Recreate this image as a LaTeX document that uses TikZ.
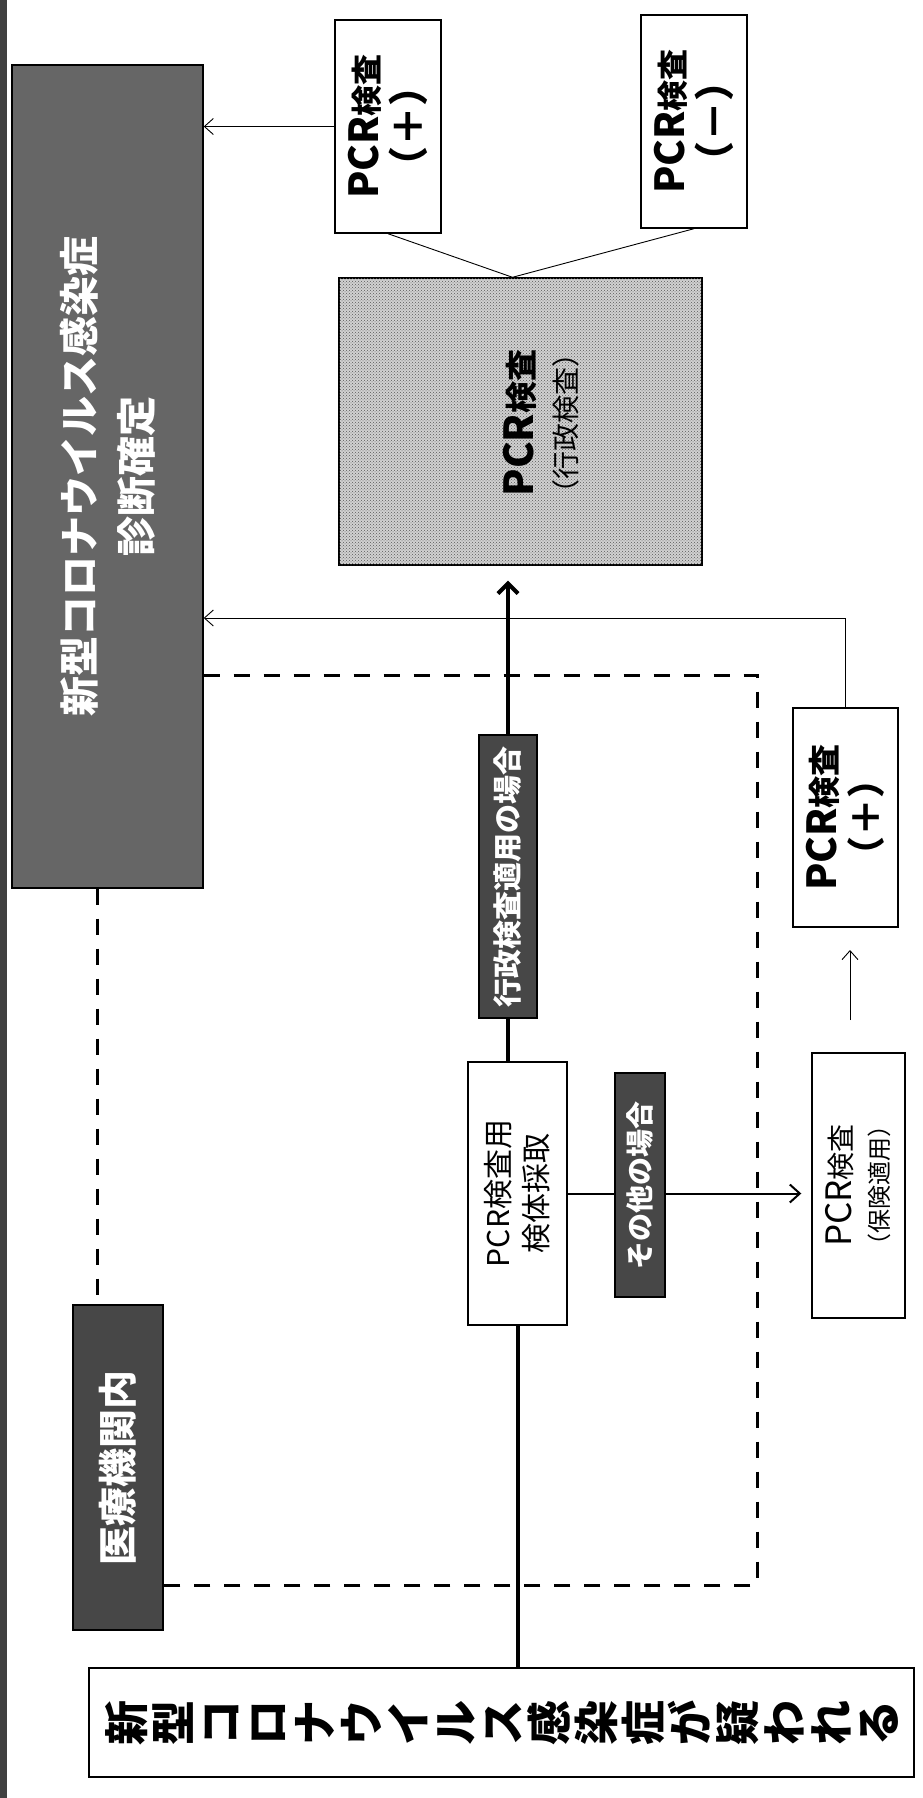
\documentclass[tikz,border=0pt]{standalone}
\usepackage{fontspec}
\setmainfont{Noto Sans CJK JP}
\usepackage{graphicx}
\usetikzlibrary{arrows.meta,patterns,calc}
% rotated stack of lines: #1 font setup, #2 lines separated by \cr
\newcommand{\rt}[2]{\rotatebox{90}{#1\vbox{\lineskiplimit=-1000pt\lineskip=0pt\halign{\hfil##\hfil\cr#2\crcr}}}}
\newcommand{\bigPCR}[1]{{\fontsize{#1}{#1}\selectfont PCR}}
\newcommand{\fsz}[1]{\fontsize{#1}{#1}\selectfont}
\begin{document}
\begin{tikzpicture}[x=1pt,y=-1pt,
  box/.style={draw=black, line width=1.4pt, fill=white, inner sep=0pt},
  dark/.style={draw=black, line width=1.4pt, fill=black!60, text=white, inner sep=0pt},
  darklabel/.style={dark, fill=black!72},
  stipple/.style={draw=black, line width=1.4pt, fill=black!18, postaction={pattern=crosshatch dots, pattern color=black!65}, inner sep=0pt},
  thinarr/.style={line width=0.9pt, -{Straight Barb[length=9pt,width=16pt]}},
  midarr/.style={line width=2pt, -{Straight Barb[length=10pt,width=18pt]}},
  midline/.style={line width=2pt},
  mainline/.style={line width=4pt},
  mainarr/.style={line width=4pt, -{Straight Barb[length=10pt,width=20pt]}},
  thinline/.style={line width=0.9pt},
  dashline/.style={line width=3pt, dash pattern=on 16pt off 14pt},
]
\useasboundingbox (0,0) rectangle (923,1798);
\fill[black!75] (0,0) rectangle (7,1798);

% nodes
\node[dark, minimum width=191pt, minimum height=823pt] (dx) at (107.5,476.5)
  {\rt{\fontsize{40}{57}\selectfont\bfseries}{新型コロナウイルス感染症\cr 診断確定}};
\node[box, minimum width=106pt, minimum height=213pt] (pp1) at (388,126.5)
  {\rt{\fontsize{31}{45}\selectfont\bfseries}{\bigPCR{40}検査\cr{\fsz{40}（＋）}}};
\node[box, minimum width=106pt, minimum height=213pt] (pm) at (694,121.5)
  {\rt{\fontsize{31}{45}\selectfont\bfseries}{\bigPCR{40}検査\cr{\fsz{40}（－）}}};
\node[stipple, minimum width=363pt, minimum height=287pt] (stip) at (520.5,421.5) {};
\node[inner sep=0pt] (stiptext) at (541,423)
  {\rt{\fontsize{32}{43}\selectfont}{\bfseries \bigPCR{40}検査\cr{\fsz{28}（行政検査）}}};
\node[box, minimum width=105pt, minimum height=219pt] (pcrL) at (845.5,817.5)
  {\rt{\fontsize{32}{44}\selectfont\bfseries}{\bigPCR{40}検査\cr{\fsz{38}（＋）}}};
\node[box, minimum width=93pt, minimum height=265pt] (hoken) at (858.5,1185.5)
  {\rt{\fontsize{28}{37}\selectfont}{\bigPCR{35}検査\cr{\fsz{24}（保険適用）}}};
\node[box, minimum width=99pt, minimum height=263pt] (spec) at (517.5,1193.5)
  {\rt{\fontsize{30}{38}\selectfont}{PCR検査用\cr 検体採取}};
\node[darklabel, minimum width=58pt, minimum height=283pt] (lab1) at (508,876.5)
  {\rt{\fontsize{29}{29}\selectfont\bfseries}{行政検査適用の場合}};
\node[darklabel, minimum width=50pt, minimum height=224pt] (lab2) at (640,1185)
  {\rt{\fontsize{28}{28}\selectfont\bfseries}{その他の場合}};
\node[darklabel, minimum width=90pt, minimum height=325pt] (lab3) at (118,1467.5)
  {\rt{\fontsize{39}{39}\selectfont\bfseries}{医療機関内}};
\node[box, minimum width=825pt, minimum height=109pt] (bot) at (501.5,1722.5)
  {\rt{\fontsize{45}{47}\selectfont\bfseries}{新\cr 型\cr コ\cr ロ\cr ナ\cr ウ\cr イ\cr ル\cr ス\cr 感\cr 染\cr 症\cr が\cr 疑\cr わ\cr れ\cr る}};

% coordinates
\coordinate (dA) at (757,675);
\coordinate (dB) at (757,1585);
\coordinate (hA) at (850,1020);
\coordinate (hB) at (850,950);

% connectors
\draw[thinarr] (pp1.west) -- (dx.east |- pp1.west);
\draw[thinline] (pp1.south) -- ($(stip.north)+(-8,0)$);
\draw[thinline] (pm.south) -- ($(stip.north)+(-8,0)$);
\draw[dashline] (dx.east |- dA) -- (dA) -- (dB) -- (lab3.east |- dB);
\draw[dashline] ($(dx.south)+(-10,0)$) -- ($(dx.south |- lab3.north)+(-10,0)$);
\draw[mainline] (spec.south |- bot.north) -- (spec.south);
\draw[mainline] (lab1.south |- spec.north) -- (lab1.south);
\draw[mainarr] (lab1.north) -- ($(lab1.north |- stip.south)+(0,15)$);
\draw[thinarr] (pcrL.north) |- (dx.east |- 0,618);
\draw[midline] (spec.east) -- (lab2.west |- spec.east);
\draw[midarr] (lab2.east |- spec.east) -- ($(hoken.west |- spec.east)+(-10,0)$);
\draw[thinarr] (hA) -- (hB);
\end{tikzpicture}
\end{document}
